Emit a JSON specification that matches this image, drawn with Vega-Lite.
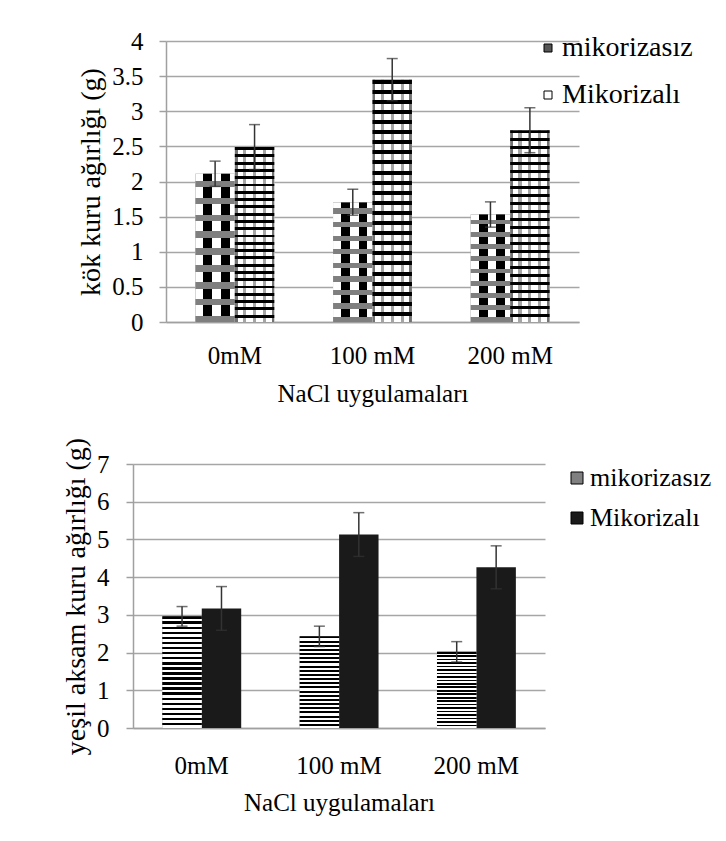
{
  "$schema": "https://vega.github.io/schema/vega-lite/v6.json",
  "padding": {"left": 62, "top": 29, "right": 5, "bottom": 5},
  "spacing": 31,
  "center": true,
  "resolve": {"scale": {"color": "independent"}, "legend": {"color": "independent"}},
  "datasets": {
    "kok": [
      {"grup": "0mM", "seri": "mikorizasız", "deger": 2.11, "alt": 1.93, "ust": 2.29},
      {"grup": "0mM", "seri": "Mikorizalı", "deger": 2.49, "alt": 2.17, "ust": 2.81},
      {"grup": "100 mM", "seri": "mikorizasız", "deger": 1.7, "alt": 1.52, "ust": 1.89},
      {"grup": "100 mM", "seri": "Mikorizalı", "deger": 3.45, "alt": 3.15, "ust": 3.75},
      {"grup": "200 mM", "seri": "mikorizasız", "deger": 1.53, "alt": 1.35, "ust": 1.71},
      {"grup": "200 mM", "seri": "Mikorizalı", "deger": 2.73, "alt": 2.41, "ust": 3.05}
    ],
    "yesil": [
      {"grup": "0mM", "seri": "mikorizasız", "deger": 2.96, "alt": 2.7, "ust": 3.22},
      {"grup": "0mM", "seri": "Mikorizalı", "deger": 3.17, "alt": 2.59, "ust": 3.75},
      {"grup": "100 mM", "seri": "mikorizasız", "deger": 2.43, "alt": 2.16, "ust": 2.7},
      {"grup": "100 mM", "seri": "Mikorizalı", "deger": 5.13, "alt": 4.55, "ust": 5.71},
      {"grup": "200 mM", "seri": "mikorizasız", "deger": 2.02, "alt": 1.75, "ust": 2.29},
      {"grup": "200 mM", "seri": "Mikorizalı", "deger": 4.26, "alt": 3.69, "ust": 4.83}
    ]
  },
  "vconcat": [
    {
      "width": 413,
      "height": 281,
      "data": {"name": "kok"},
      "encoding": {
        "x": {"field": "grup", "type": "nominal", "sort": ["0mM", "100 mM", "200 mM"], "title": "NaCl uygulamaları",
              "scale": {"paddingInner": 0.427, "paddingOuter": 0.2135},
              "axis": {"labelPadding": 21, "titlePadding": 13}},
        "xOffset": {"field": "seri", "type": "nominal", "sort": ["mikorizasız", "Mikorizalı"], "scale": {"paddingInner": 0, "paddingOuter": 0}}
      },
      "layer": [
        {
          "mark": {"type": "bar"},
          "encoding": {
            "y": {"field": "deger", "type": "quantitative", "title": "kök kuru ağırlığı (g)", "scale": {"domain": [0, 4], "nice": false},
                  "axis": {"values": [0, 0.5, 1, 1.5, 2, 2.5, 3, 3.5, 4]}},
            "color": {"field": "seri", "type": "nominal", "sort": ["mikorizasız", "Mikorizalı"],
                      "scale": {"domain": ["mikorizasız", "Mikorizalı"], "range": ["#555555", "#ffffff"]},
                      "legend": {"orient": "none", "legendX": 368, "legendY": -7, "title": null, "labelFontSize": 28, "symbolType": "square", "symbolSize": 64, "symbolStrokeColor": "#000000", "symbolStrokeWidth": 1, "labelOffset": 0, "rowPadding": 19, "labelLimit": 400}}
          }
        },
        {
          "transform": [{"filter": "datum.seri === 'mikorizasız'"}],
          "mark": {"type": "bar", "fill": {"gradient": "linear", "x1": 0, "y1": 0, "x2": 1, "y2": 0, "stops": [
            {"offset": 0, "color": "#ffffff"}, {"offset": 0.2, "color": "#ffffff"}, {"offset": 0.2, "color": "#000000"}, {"offset": 0.43, "color": "#000000"},
            {"offset": 0.43, "color": "#ffffff"}, {"offset": 0.65, "color": "#ffffff"}, {"offset": 0.65, "color": "#000000"}, {"offset": 0.87, "color": "#000000"},
            {"offset": 0.87, "color": "#ffffff"}, {"offset": 1, "color": "#ffffff"}]}},
          "encoding": {"y": {"field": "deger", "type": "quantitative", "title": "kök kuru ağırlığı (g)", "axis": {"values": [0, 0.5, 1, 1.5, 2, 2.5, 3, 3.5, 4]}}}
        },
        {
          "transform": [{"filter": "datum.seri === 'mikorizasız'"}],
          "mark": {"type": "bar", "fill": {"gradient": "linear", "x1": 0, "y1": 0, "x2": 0, "y2": 1, "stops": [
            {"offset": 0, "color": "rgba(0,0,0,0)"}, {"offset": 0.048, "color": "rgba(0,0,0,0)"}, {"offset": 0.048, "color": "#7f7f7f"}, {"offset": 0.092, "color": "#7f7f7f"},
            {"offset": 0.092, "color": "rgba(0,0,0,0)"}, {"offset": 0.162, "color": "rgba(0,0,0,0)"}, {"offset": 0.162, "color": "#7f7f7f"}, {"offset": 0.206, "color": "#7f7f7f"},
            {"offset": 0.206, "color": "rgba(0,0,0,0)"}, {"offset": 0.276, "color": "rgba(0,0,0,0)"}, {"offset": 0.276, "color": "#7f7f7f"}, {"offset": 0.32, "color": "#7f7f7f"},
            {"offset": 0.32, "color": "rgba(0,0,0,0)"}, {"offset": 0.389, "color": "rgba(0,0,0,0)"}, {"offset": 0.389, "color": "#7f7f7f"}, {"offset": 0.433, "color": "#7f7f7f"},
            {"offset": 0.433, "color": "rgba(0,0,0,0)"}, {"offset": 0.503, "color": "rgba(0,0,0,0)"}, {"offset": 0.503, "color": "#7f7f7f"}, {"offset": 0.547, "color": "#7f7f7f"},
            {"offset": 0.547, "color": "rgba(0,0,0,0)"}, {"offset": 0.617, "color": "rgba(0,0,0,0)"}, {"offset": 0.617, "color": "#7f7f7f"}, {"offset": 0.661, "color": "#7f7f7f"},
            {"offset": 0.661, "color": "rgba(0,0,0,0)"}, {"offset": 0.73, "color": "rgba(0,0,0,0)"}, {"offset": 0.73, "color": "#7f7f7f"}, {"offset": 0.774, "color": "#7f7f7f"},
            {"offset": 0.774, "color": "rgba(0,0,0,0)"}, {"offset": 0.844, "color": "rgba(0,0,0,0)"}, {"offset": 0.844, "color": "#7f7f7f"}, {"offset": 0.888, "color": "#7f7f7f"},
            {"offset": 0.888, "color": "rgba(0,0,0,0)"}, {"offset": 0.958, "color": "rgba(0,0,0,0)"}, {"offset": 0.958, "color": "#7f7f7f"}, {"offset": 1, "color": "#7f7f7f"}]}},
          "encoding": {"y": {"field": "deger", "type": "quantitative", "title": "kök kuru ağırlığı (g)", "axis": {"values": [0, 0.5, 1, 1.5, 2, 2.5, 3, 3.5, 4]}}}
        },
        {
          "transform": [{"filter": "datum.seri === 'Mikorizalı'"}],
          "mark": {"type": "bar", "fill": {"gradient": "linear", "x1": 0, "y1": 0, "x2": 0, "y2": 1, "stops": [
            {"offset": 0, "color": "#000"}, {"offset": 0.01667, "color": "#000"}, {"offset": 0.01667, "color": "#fff"}, {"offset": 0.04167, "color": "#fff"},
            {"offset": 0.04167, "color": "#000"}, {"offset": 0.05833, "color": "#000"}, {"offset": 0.05833, "color": "#fff"}, {"offset": 0.08333, "color": "#fff"},
            {"offset": 0.08333, "color": "#000"}, {"offset": 0.1, "color": "#000"}, {"offset": 0.1, "color": "#fff"}, {"offset": 0.125, "color": "#fff"},
            {"offset": 0.125, "color": "#000"}, {"offset": 0.14167, "color": "#000"}, {"offset": 0.14167, "color": "#fff"}, {"offset": 0.16667, "color": "#fff"},
            {"offset": 0.16667, "color": "#000"}, {"offset": 0.18333, "color": "#000"}, {"offset": 0.18333, "color": "#fff"}, {"offset": 0.20833, "color": "#fff"},
            {"offset": 0.20833, "color": "#000"}, {"offset": 0.225, "color": "#000"}, {"offset": 0.225, "color": "#fff"}, {"offset": 0.25, "color": "#fff"},
            {"offset": 0.25, "color": "#000"}, {"offset": 0.26667, "color": "#000"}, {"offset": 0.26667, "color": "#fff"}, {"offset": 0.29167, "color": "#fff"},
            {"offset": 0.29167, "color": "#000"}, {"offset": 0.30833, "color": "#000"}, {"offset": 0.30833, "color": "#fff"}, {"offset": 0.33333, "color": "#fff"},
            {"offset": 0.33333, "color": "#000"}, {"offset": 0.35, "color": "#000"}, {"offset": 0.35, "color": "#fff"}, {"offset": 0.375, "color": "#fff"},
            {"offset": 0.375, "color": "#000"}, {"offset": 0.39167, "color": "#000"}, {"offset": 0.39167, "color": "#fff"}, {"offset": 0.41667, "color": "#fff"},
            {"offset": 0.41667, "color": "#000"}, {"offset": 0.43333, "color": "#000"}, {"offset": 0.43333, "color": "#fff"}, {"offset": 0.45833, "color": "#fff"},
            {"offset": 0.45833, "color": "#000"}, {"offset": 0.475, "color": "#000"}, {"offset": 0.475, "color": "#fff"}, {"offset": 0.5, "color": "#fff"},
            {"offset": 0.5, "color": "#000"}, {"offset": 0.51667, "color": "#000"}, {"offset": 0.51667, "color": "#fff"}, {"offset": 0.54167, "color": "#fff"},
            {"offset": 0.54167, "color": "#000"}, {"offset": 0.55833, "color": "#000"}, {"offset": 0.55833, "color": "#fff"}, {"offset": 0.58333, "color": "#fff"},
            {"offset": 0.58333, "color": "#000"}, {"offset": 0.6, "color": "#000"}, {"offset": 0.6, "color": "#fff"}, {"offset": 0.625, "color": "#fff"},
            {"offset": 0.625, "color": "#000"}, {"offset": 0.64167, "color": "#000"}, {"offset": 0.64167, "color": "#fff"}, {"offset": 0.66667, "color": "#fff"},
            {"offset": 0.66667, "color": "#000"}, {"offset": 0.68333, "color": "#000"}, {"offset": 0.68333, "color": "#fff"}, {"offset": 0.70833, "color": "#fff"},
            {"offset": 0.70833, "color": "#000"}, {"offset": 0.725, "color": "#000"}, {"offset": 0.725, "color": "#fff"}, {"offset": 0.75, "color": "#fff"},
            {"offset": 0.75, "color": "#000"}, {"offset": 0.76667, "color": "#000"}, {"offset": 0.76667, "color": "#fff"}, {"offset": 0.79167, "color": "#fff"},
            {"offset": 0.79167, "color": "#000"}, {"offset": 0.80833, "color": "#000"}, {"offset": 0.80833, "color": "#fff"}, {"offset": 0.83333, "color": "#fff"},
            {"offset": 0.83333, "color": "#000"}, {"offset": 0.85, "color": "#000"}, {"offset": 0.85, "color": "#fff"}, {"offset": 0.875, "color": "#fff"},
            {"offset": 0.875, "color": "#000"}, {"offset": 0.89167, "color": "#000"}, {"offset": 0.89167, "color": "#fff"}, {"offset": 0.91667, "color": "#fff"},
            {"offset": 0.91667, "color": "#000"}, {"offset": 0.93333, "color": "#000"}, {"offset": 0.93333, "color": "#fff"}, {"offset": 0.95833, "color": "#fff"},
            {"offset": 0.95833, "color": "#000"}, {"offset": 0.975, "color": "#000"}, {"offset": 0.975, "color": "#fff"}, {"offset": 1, "color": "#fff"}]}},
          "encoding": {"y": {"field": "deger", "type": "quantitative", "title": "kök kuru ağırlığı (g)", "axis": {"values": [0, 0.5, 1, 1.5, 2, 2.5, 3, 3.5, 4]}}}
        },
        {
          "transform": [{"filter": "datum.seri === 'Mikorizalı'"}],
          "mark": {"type": "bar", "fill": {"gradient": "linear", "x1": 0, "y1": 0, "x2": 1, "y2": 0, "stops": [
            {"offset": 0, "color": "rgba(0,0,0,0.55)"}, {"offset": 0.07, "color": "rgba(0,0,0,0.55)"}, {"offset": 0.07, "color": "rgba(0,0,0,0)"}, {"offset": 0.21, "color": "rgba(0,0,0,0)"},
            {"offset": 0.21, "color": "rgba(0,0,0,0.35)"}, {"offset": 0.29, "color": "rgba(0,0,0,0.35)"}, {"offset": 0.29, "color": "rgba(0,0,0,0)"}, {"offset": 0.46, "color": "rgba(0,0,0,0)"},
            {"offset": 0.46, "color": "rgba(0,0,0,0.35)"}, {"offset": 0.54, "color": "rgba(0,0,0,0.35)"}, {"offset": 0.54, "color": "rgba(0,0,0,0)"}, {"offset": 0.71, "color": "rgba(0,0,0,0)"},
            {"offset": 0.71, "color": "rgba(0,0,0,0.35)"}, {"offset": 0.79, "color": "rgba(0,0,0,0.35)"}, {"offset": 0.79, "color": "rgba(0,0,0,0)"}, {"offset": 0.93, "color": "rgba(0,0,0,0)"},
            {"offset": 0.93, "color": "rgba(0,0,0,0.55)"}, {"offset": 1, "color": "rgba(0,0,0,0.55)"}]}},
          "encoding": {"y": {"field": "deger", "type": "quantitative", "title": "kök kuru ağırlığı (g)", "axis": {"values": [0, 0.5, 1, 1.5, 2, 2.5, 3, 3.5, 4]}}}
        },
        {
          "mark": {"type": "rule", "color": "#333333", "strokeWidth": 1.5},
          "encoding": {"y": {"field": "alt", "type": "quantitative", "title": "kök kuru ağırlığı (g)", "axis": {"values": [0, 0.5, 1, 1.5, 2, 2.5, 3, 3.5, 4]}}, "y2": {"field": "ust"}}
        },
        {
          "mark": {"type": "tick", "color": "#333333", "size": 11, "thickness": 1.5},
          "encoding": {"y": {"field": "ust", "type": "quantitative", "title": "kök kuru ağırlığı (g)", "axis": {"values": [0, 0.5, 1, 1.5, 2, 2.5, 3, 3.5, 4]}}}
        },
        {
          "mark": {"type": "tick", "color": "#333333", "size": 11, "thickness": 1.5},
          "encoding": {"y": {"field": "alt", "type": "quantitative", "title": "kök kuru ağırlığı (g)", "axis": {"values": [0, 0.5, 1, 1.5, 2, 2.5, 3, 3.5, 4]}}}
        }
      ]
    },
    {
      "width": 412,
      "height": 264,
      "data": {"name": "yesil"},
      "encoding": {
        "x": {"field": "grup", "type": "nominal", "sort": ["0mM", "100 mM", "200 mM"], "title": "NaCl uygulamaları",
              "scale": {"paddingInner": 0.427, "paddingOuter": 0.2135},
              "axis": {"labelPadding": 25, "titlePadding": 12}},
        "xOffset": {"field": "seri", "type": "nominal", "sort": ["mikorizasız", "Mikorizalı"], "scale": {"paddingInner": 0, "paddingOuter": 0}}
      },
      "layer": [
        {
          "mark": {"type": "bar"},
          "encoding": {
            "y": {"field": "deger", "type": "quantitative", "title": "yeşil aksam kuru ağırlığı (g)", "scale": {"domain": [0, 7], "nice": false},
                  "axis": {"values": [0, 1, 2, 3, 4, 5, 6, 7], "labelPadding": 17}},
            "color": {"field": "seri", "type": "nominal", "sort": ["mikorizasız", "Mikorizalı"],
                      "scale": {"domain": ["mikorizasız", "Mikorizalı"], "range": ["#808080", "#1a1a1a"]},
                      "legend": {"orient": "none", "legendX": 417, "legendY": -13, "padding": 14, "title": null, "labelFontSize": 26, "symbolType": "square", "symbolSize": 144, "symbolStrokeColor": "#000000", "symbolStrokeWidth": 1, "labelOffset": 0, "rowPadding": 14, "labelLimit": 400}}
          }
        },
        {
          "transform": [{"filter": "datum.seri === 'mikorizasız'"}],
          "mark": {"type": "bar", "fill": {"gradient": "linear", "x1": 0, "y1": 0, "x2": 0, "y2": 1, "stops": [
            {"offset": 0, "color": "#000"}, {"offset": 0.02273, "color": "#000"}, {"offset": 0.02273, "color": "#fff"}, {"offset": 0.04545, "color": "#fff"},
            {"offset": 0.04545, "color": "#000"}, {"offset": 0.06818, "color": "#000"}, {"offset": 0.06818, "color": "#fff"}, {"offset": 0.09091, "color": "#fff"},
            {"offset": 0.09091, "color": "#000"}, {"offset": 0.11364, "color": "#000"}, {"offset": 0.11364, "color": "#fff"}, {"offset": 0.13636, "color": "#fff"},
            {"offset": 0.13636, "color": "#000"}, {"offset": 0.15909, "color": "#000"}, {"offset": 0.15909, "color": "#fff"}, {"offset": 0.18182, "color": "#fff"},
            {"offset": 0.18182, "color": "#000"}, {"offset": 0.20455, "color": "#000"}, {"offset": 0.20455, "color": "#fff"}, {"offset": 0.22727, "color": "#fff"},
            {"offset": 0.22727, "color": "#000"}, {"offset": 0.25, "color": "#000"}, {"offset": 0.25, "color": "#fff"}, {"offset": 0.27273, "color": "#fff"},
            {"offset": 0.27273, "color": "#000"}, {"offset": 0.29545, "color": "#000"}, {"offset": 0.29545, "color": "#fff"}, {"offset": 0.31818, "color": "#fff"},
            {"offset": 0.31818, "color": "#000"}, {"offset": 0.34091, "color": "#000"}, {"offset": 0.34091, "color": "#fff"}, {"offset": 0.36364, "color": "#fff"},
            {"offset": 0.36364, "color": "#000"}, {"offset": 0.38636, "color": "#000"}, {"offset": 0.38636, "color": "#fff"}, {"offset": 0.40909, "color": "#fff"},
            {"offset": 0.40909, "color": "#000"}, {"offset": 0.43182, "color": "#000"}, {"offset": 0.43182, "color": "#fff"}, {"offset": 0.45455, "color": "#fff"},
            {"offset": 0.45455, "color": "#000"}, {"offset": 0.47727, "color": "#000"}, {"offset": 0.47727, "color": "#fff"}, {"offset": 0.5, "color": "#fff"},
            {"offset": 0.5, "color": "#000"}, {"offset": 0.52273, "color": "#000"}, {"offset": 0.52273, "color": "#fff"}, {"offset": 0.54545, "color": "#fff"},
            {"offset": 0.54545, "color": "#000"}, {"offset": 0.56818, "color": "#000"}, {"offset": 0.56818, "color": "#fff"}, {"offset": 0.59091, "color": "#fff"},
            {"offset": 0.59091, "color": "#000"}, {"offset": 0.61364, "color": "#000"}, {"offset": 0.61364, "color": "#fff"}, {"offset": 0.63636, "color": "#fff"},
            {"offset": 0.63636, "color": "#000"}, {"offset": 0.65909, "color": "#000"}, {"offset": 0.65909, "color": "#fff"}, {"offset": 0.68182, "color": "#fff"},
            {"offset": 0.68182, "color": "#000"}, {"offset": 0.70455, "color": "#000"}, {"offset": 0.70455, "color": "#fff"}, {"offset": 0.72727, "color": "#fff"},
            {"offset": 0.72727, "color": "#000"}, {"offset": 0.75, "color": "#000"}, {"offset": 0.75, "color": "#fff"}, {"offset": 0.77273, "color": "#fff"},
            {"offset": 0.77273, "color": "#000"}, {"offset": 0.79545, "color": "#000"}, {"offset": 0.79545, "color": "#fff"}, {"offset": 0.81818, "color": "#fff"},
            {"offset": 0.81818, "color": "#000"}, {"offset": 0.84091, "color": "#000"}, {"offset": 0.84091, "color": "#fff"}, {"offset": 0.86364, "color": "#fff"},
            {"offset": 0.86364, "color": "#000"}, {"offset": 0.88636, "color": "#000"}, {"offset": 0.88636, "color": "#fff"}, {"offset": 0.90909, "color": "#fff"},
            {"offset": 0.90909, "color": "#000"}, {"offset": 0.93182, "color": "#000"}, {"offset": 0.93182, "color": "#fff"}, {"offset": 0.95455, "color": "#fff"},
            {"offset": 0.95455, "color": "#000"}, {"offset": 0.97727, "color": "#000"}, {"offset": 0.97727, "color": "#fff"}, {"offset": 1, "color": "#fff"}]}},
          "encoding": {"y": {"field": "deger", "type": "quantitative", "title": "yeşil aksam kuru ağırlığı (g)", "axis": {"values": [0, 1, 2, 3, 4, 5, 6, 7], "labelPadding": 17}}}
        },
        {
          "mark": {"type": "rule", "color": "#333333", "strokeWidth": 1.5},
          "encoding": {"y": {"field": "alt", "type": "quantitative", "title": "yeşil aksam kuru ağırlığı (g)", "axis": {"values": [0, 1, 2, 3, 4, 5, 6, 7], "labelPadding": 17}}, "y2": {"field": "ust"}}
        },
        {
          "mark": {"type": "tick", "color": "#333333", "size": 11, "thickness": 1.5},
          "encoding": {"y": {"field": "ust", "type": "quantitative", "title": "yeşil aksam kuru ağırlığı (g)", "axis": {"values": [0, 1, 2, 3, 4, 5, 6, 7], "labelPadding": 17}}}
        },
        {
          "mark": {"type": "tick", "color": "#333333", "size": 11, "thickness": 1.5},
          "encoding": {"y": {"field": "alt", "type": "quantitative", "title": "yeşil aksam kuru ağırlığı (g)", "axis": {"values": [0, 1, 2, 3, 4, 5, 6, 7], "labelPadding": 17}}}
        }
      ]
    }
  ],
  "config": {
    "font": "Liberation Serif",
    "view": {"stroke": null},
    "axis": {"labelFont": "Liberation Serif", "titleFont": "Liberation Serif", "labelColor": "#000000", "titleColor": "#000000", "titleFontWeight": "normal",
             "domainColor": "#a0a0a0", "domainWidth": 1.5, "tickColor": "#a0a0a0", "tickWidth": 1.5, "gridColor": "#a6a6a6", "gridWidth": 1.5},
    "axisY": {"format": "~g", "tickSize": 7, "labelFontSize": 25, "labelPadding": 16, "titleFontSize": 28, "titlePadding": 6, "grid": true},
    "axisX": {"labelAngle": 0, "ticks": false, "labelFontSize": 25, "titleFontSize": 25, "grid": false},
    "legend": {"labelFont": "Liberation Serif", "labelColor": "#000000"}
  }
}
